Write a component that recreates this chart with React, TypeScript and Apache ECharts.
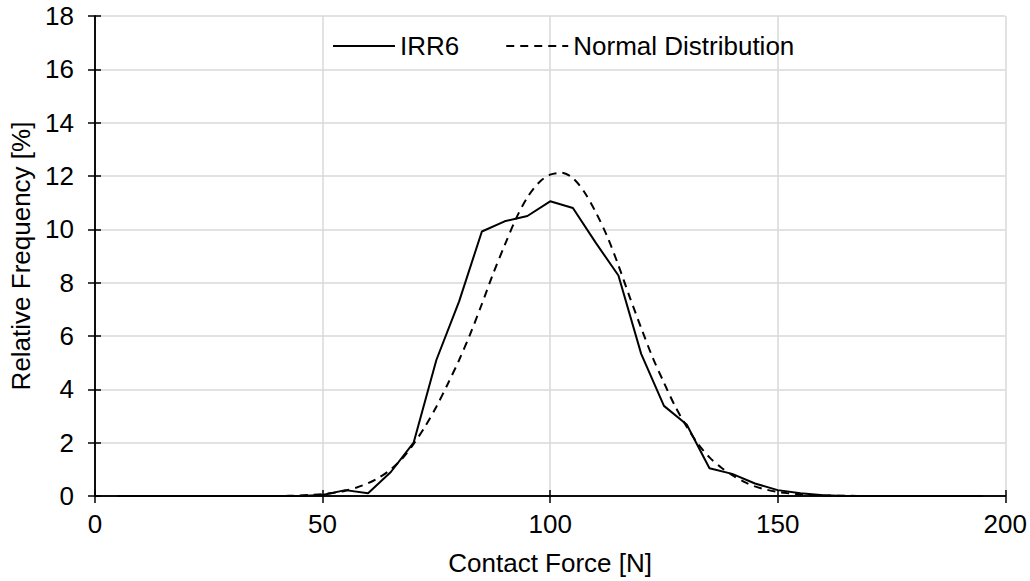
import React, { useEffect, useRef } from "react";
import * as echarts from "echarts";

const forceValues: number[] = [5, 10, 15, 20, 25, 30, 35, 40, 45, 50, 55, 60, 65, 70, 75, 80, 85, 90, 95, 100, 105, 110, 115, 120, 125, 130, 135, 140, 145, 150, 155, 160, 165, 170, 175, 180, 185, 190, 195];
const irr6Values: number[] = [0, 0, 0, 0, 0, 0, 0, 0, 0, 0.04, 0.22, 0.1, 0.9, 2.0, 5.1, 7.3, 9.92, 10.3, 10.5, 11.05, 10.8, 9.5, 8.27, 5.33, 3.38, 2.68, 1.04, 0.83, 0.47, 0.22, 0.1, 0.03, 0, 0, 0, 0, 0, 0, 0];
const normalForce: number[] = [5, 10, 15, 20, 25, 30, 35, 40, 45, 47.5, 50, 52.5, 55, 57.5, 60, 62.5, 65, 67.5, 70, 72.5, 75, 77.5, 80, 82.5, 85, 87.5, 90, 92.5, 95, 97.5, 100, 102.5, 105, 107.5, 110, 112.5, 115, 117.5, 120, 122.5, 125, 127.5, 130, 132.5, 135, 137.5, 140, 142.5, 145, 147.5, 150, 152.5, 155, 157.5, 160, 165, 170, 175, 180, 185, 190, 195];
const normalValues: number[] = [0, 0, 0, 0, 0, 0, 0, 0, 0.02, 0.04, 0.07, 0.12, 0.2, 0.32, 0.48, 0.7, 1.0, 1.4, 1.95, 2.6, 3.35, 4.2, 5.1, 6.1, 7.2, 8.35, 9.4, 10.4, 11.2, 11.75, 12.05, 12.12, 11.92, 11.4, 10.65, 9.75, 8.65, 7.45, 6.3, 5.2, 4.25, 3.35, 2.6, 1.95, 1.45, 1.08, 0.78, 0.54, 0.36, 0.24, 0.15, 0.1, 0.06, 0.04, 0.02, 0.01, 0, 0, 0, 0, 0, 0];
const seriesNames: string[] = ["IRR6", "Normal Distribution"];
const xAxisTitle = "Contact Force [N]";
const yAxisTitle = "Relative Frequency [%]";

const FONT = "'Liberation Sans', Arial, sans-serif";
const FS = 26;

export default function App() {
  const ref = useRef<HTMLDivElement>(null);
  useEffect(() => {
    if (!ref.current) return;
    const chart = echarts.init(ref.current, null, { renderer: "svg" });
    const toPairs = (xs: number[], ys: number[]) => xs.map((x, i) => [x, ys[i]]);
    const axisLineStyle = { color: "#000", width: 1.5 };
    chart.setOption({
      animation: false,
      backgroundColor: "#fff",
      textStyle: { fontFamily: FONT, color: "#000" },
      grid: { left: 93, right: 23, top: 16, bottom: 85, containLabel: false },
      legend: {
        left: 332,
        top: 33,
        padding: 0,
        itemWidth: 62,
        itemHeight: 14,
        itemGap: 46,
        itemStyle: { opacity: 0 },
        textStyle: { fontFamily: FONT, fontSize: FS, color: "#000" },
        data: seriesNames,
      },
      xAxis: [
        {
          type: "value",
          min: 0,
          max: 200,
          interval: 50,
          name: xAxisTitle,
          nameLocation: "middle",
          nameGap: 54,
          nameTextStyle: { fontFamily: FONT, fontSize: FS, color: "#000" },
          axisLine: { show: true, onZero: false, lineStyle: axisLineStyle },
          axisTick: { show: true, inside: false, length: 7, lineStyle: axisLineStyle },
          axisLabel: { margin: 15, fontFamily: FONT, fontSize: FS, color: "#000" },
          splitLine: { show: true, lineStyle: { color: "#d9d9d9", width: 1.5 } },
        },
        {
          type: "value",
          min: 0,
          max: 200,
          interval: 50,
          position: "bottom",
          axisLine: { show: true, onZero: false, lineStyle: axisLineStyle },
          axisTick: { show: true, inside: true, length: 6, lineStyle: axisLineStyle },
          axisLabel: { show: false },
          splitLine: { show: false },
        },
      ],
      yAxis: [
        {
          type: "value",
          min: 0,
          max: 18,
          interval: 2,
          name: yAxisTitle,
          nameLocation: "middle",
          nameGap: 61,
          nameTextStyle: { fontFamily: FONT, fontSize: FS, color: "#000" },
          axisLine: { show: true, onZero: false, lineStyle: axisLineStyle },
          axisTick: { show: true, inside: false, length: 7, lineStyle: axisLineStyle },
          axisLabel: { margin: 21, fontFamily: FONT, fontSize: FS, color: "#000" },
          splitLine: { show: true, lineStyle: { color: "#d9d9d9", width: 1.5 } },
        },
        {
          type: "value",
          min: 0,
          max: 18,
          interval: 2,
          position: "left",
          axisLine: { show: true, onZero: false, lineStyle: axisLineStyle },
          axisTick: { show: true, inside: true, length: 6, lineStyle: axisLineStyle },
          axisLabel: { show: false },
          splitLine: { show: false },
        },
      ],
      series: [
        {
          name: seriesNames[0],
          type: "line",
          data: toPairs(forceValues, irr6Values),
          showSymbol: false,
          symbol: "none",
          lineStyle: { color: "#000", width: 2, type: "solid" },
          itemStyle: { color: "#000" },
          z: 3,
        },
        {
          name: seriesNames[1],
          type: "line",
          data: toPairs(normalForce, normalValues),
          showSymbol: false,
          symbol: "none",
          smooth: 0.3,
          lineStyle: { color: "#000", width: 2, type: [8, 6] },
          itemStyle: { color: "#000" },
          z: 2,
        },
      ],
    });
    return () => chart.dispose();
  }, []);
  return (
    <div
      ref={ref}
      style={{ position: "fixed", left: 0, top: 0, width: 1030, height: 581, background: "#fff" }}
    />
  );
}
